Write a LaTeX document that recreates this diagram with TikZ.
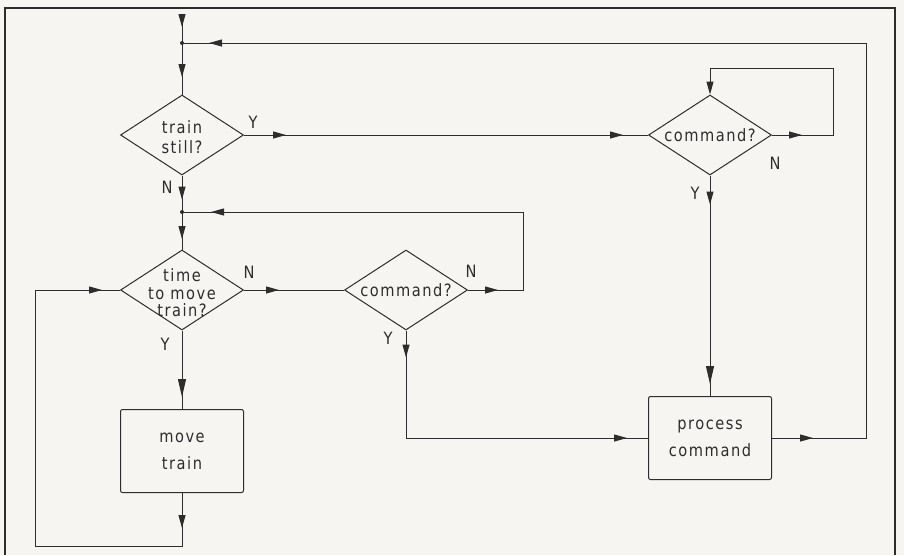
\documentclass[tikz,border=0pt]{standalone}
\usepackage{fontspec}
\setmainfont{DejaVu Sans}[LetterSpace=9,FakeStretch=0.86]
\usetikzlibrary{shapes.geometric,arrows.meta,decorations.markings}
\definecolor{ink}{RGB}{45,45,45}
\definecolor{paper}{RGB}{246,245,241}
\tikzset{
  ln/.style={draw=ink, line width=1pt},
  dia/.style={diamond, draw=ink, line width=1pt, minimum width=123pt, minimum height=80pt, inner sep=0pt},
  boxn/.style={rectangle, draw=ink, line width=1pt, rounded corners=2pt, minimum width=123pt, minimum height=83pt, align=center, font=\fontsize{17}{27}\selectfont, text=ink},
  txt/.style={font=\fontsize{17}{20}\selectfont, text=ink, align=center},
  txtb/.style={font=\fontsize{17}{17.5}\selectfont, text=ink, align=center},
  lab/.style={font=\fontsize{17}{18}\selectfont, text=ink, inner sep=0pt},
  tipat/.style={postaction={decorate,decoration={markings,mark=at position #1 with {\arrow{Triangle[length=13pt,width=7pt]}}}}},
  bigtipat/.style={postaction={decorate,decoration={markings,mark=at position #1 with {\arrow{Triangle[length=18pt,width=8pt]}}}}},
  endtip/.style={-{Triangle[length=13pt,width=7pt]}},
}
\begin{document}
\begin{tikzpicture}[x=1pt,y=-1pt]
\fill[paper] (0,0) rectangle (904,555);
\useasboundingbox (0,0) rectangle (904,555);
% frame
\draw[ink, line width=2.5pt] (5,555) -- (5,8) -- (895,8) -- (895,555);

% nodes
\node[dia, label={[txt,yshift=-2pt]center:{train\\still?}}] (d1) at (182,135) {};
\node[dia, label={[txtb,yshift=-3pt]center:{time\\to move\\train?}}] (d3) at (182,290) {};
\node[dia, label={[txt]center:{command?}}] (d4) at (406,290) {};
\node[dia, label={[txt]center:{command?}}] (d2) at (710,135) {};
\node[boxn] (mt) at (182,451) {move\\train};
\node[boxn] (pc) at (710,438) {process\\command};

\coordinate (top) at (182,15);
\coordinate (j1) at (182,43);
\coordinate (j2) at (182,212);

% connectors
\draw[ln, tipat=12pt] (top) -- (j1);
\draw[ln, tipat=34pt] (j1) -- (d1.north);
\draw[ln, tipat=42pt, tipat=-25pt] (d1.east) -- (d2.west);
\draw[ln, tipat=30pt, endtip] (d2.east) -- ++(61,0) |- ([yshift=26pt]d2.north) -- (d2.north);
\draw[ln, tipat=29pt, bigtipat=-12pt] (d2.south) -- (pc.north);
\draw[ln, tipat=41pt, tipat=-27pt] (pc.east) -- ++(94,0) |- (j1);
\draw[ln, tipat=24pt] (d1.south) -- (j2);
\draw[ln, tipat=27pt] (j2) -- (d3.north);
\draw[ln, tipat=35pt] (d3.east) -- (d4.west);
\draw[ln, tipat=30pt, tipat=-29pt] (d4.east) -- ++(55,0) |- (j2);
\draw[ln, tipat=27pt, tipat=-21pt] (d4.south) |- (pc.west);
\draw[ln, bigtipat=-12pt] (d3.south) -- (mt.north);
\draw[ln, tipat=35pt, tipat=-18pt] (mt.south) -- ++(0,53) -| ([xshift=-85pt]d3.west) -- (d3.west);

\fill[ink] (j1) circle (2pt);
\fill[ink] (j2) circle (2pt);

% branch labels
\node[lab] (y1) at (253,122) {Y};
\node[lab] (n1) at (167,187) {N};
\node[lab] (n2) at (775,163) {N};
\node[lab] (y2) at (695,193) {Y};
\node[lab] (n3) at (249,272) {N};
\node[lab] (n4) at (471,271) {N};
\node[lab] (y4) at (388,338) {Y};
\node[lab] (y3) at (165,344) {Y};
\end{tikzpicture}
\end{document}
